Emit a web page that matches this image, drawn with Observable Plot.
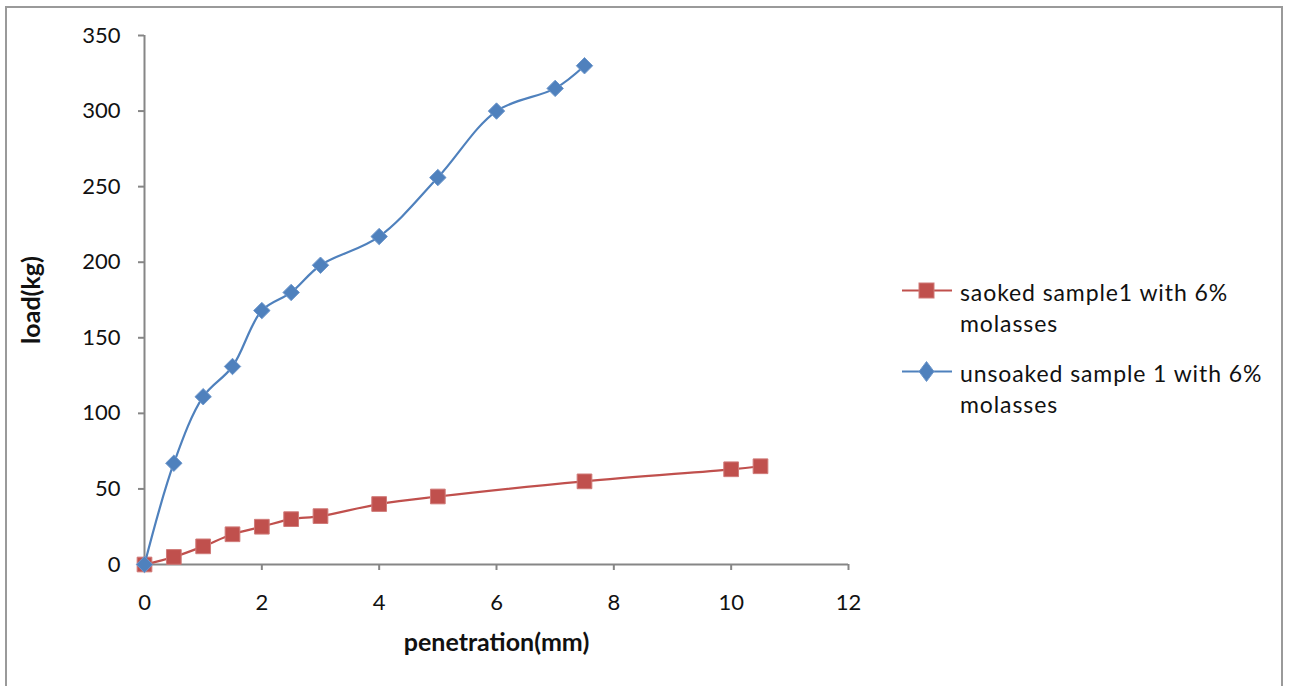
<!DOCTYPE html>
<html>
<head>
<meta charset="utf-8">
<script src="https://cdn.jsdelivr.net/npm/d3@7"></script>
<script src="https://cdn.jsdelivr.net/npm/@observablehq/plot@0.6"></script>
<style>
  html, body { margin: 0; padding: 0; background: #fff; }
  #wrap { position: relative; width: 1294px; height: 686px; overflow: hidden; font-family: Lato, "Open Sans", sans-serif; }
  #border { position: absolute; left: 5px; top: 6px; width: 1278px; height: 700px; border: 2px solid #9a9a9a; box-sizing: border-box; }
  #chart { position: absolute; left: 0; top: 0; }
  #legend { position: absolute; left: 900px; top: 277px; font-size: 23px; line-height: 31px; letter-spacing: 0.9px; color: #111; }
  .entry { display: flex; align-items: flex-start; margin-bottom: 19px; }
  .entry svg { flex: none; margin-top: 1px; margin-right: 7px; }
</style>
</head>
<body>
<div id="wrap">
  <div id="border"></div>
  <div id="chart"></div>
  <div id="legend"></div>
</div>
<script>
// Soaked sample: penetration (mm) and load (kg)
const soakedPenetration = [0, 0.5, 1, 1.5, 2, 2.5, 3, 4, 5, 7.5, 10, 10.5];
const soakedLoad = [0, 5, 12, 20, 25, 30, 32, 40, 45, 55, 63, 65];

// Unsoaked sample: penetration (mm) and load (kg)
const unsoakedPenetration = [0, 0.5, 1, 1.5, 2, 2.5, 3, 4, 5, 6, 7, 7.5];
const unsoakedLoad = [0, 67, 111, 131, 168, 180, 198, 217, 256, 300, 315, 330];

const xTicks = [0, 2, 4, 6, 8, 10, 12];
const yTicks = [0, 50, 100, 150, 200, 250, 300, 350];

const seriesNames = ["saoked sample1 with 6% molasses", "unsoaked sample 1 with 6% molasses"];
const seriesColors = ["#C0504D", "#4F81BD"];

const soaked = soakedPenetration.map((x, i) => ({x, y: soakedLoad[i]}));
const unsoaked = unsoakedPenetration.map((x, i) => ({x, y: unsoakedLoad[i]}));

const axisColor = "#868686";
const font = "Lato, 'Open Sans', sans-serif";

const chart = Plot.plot({
  width: 1294,
  height: 686,
  marginLeft: 144,
  marginRight: 446,
  marginTop: 35,
  marginBottom: 122,
  style: {fontFamily: font, background: "transparent", overflow: "visible"},
  x: {domain: [0, 12]},
  y: {domain: [0, 350]},
  marks: [
    Plot.axisX({ticks: xTicks, tickSize: 6, tickPadding: 24, stroke: axisColor, strokeWidth: 2,
      fill: "#111", fontSize: 22, label: null}),
    Plot.axisY({ticks: yTicks, tickSize: 6, tickPadding: 18, stroke: axisColor, strokeWidth: 2,
      fill: "#111", fontSize: 22, label: null}),
    Plot.ruleX([0], {stroke: axisColor, strokeWidth: 2}),
    Plot.ruleY([0], {stroke: axisColor, strokeWidth: 2}),
    Plot.text(["penetration(mm)"], {frameAnchor: "bottom", lineAnchor: "middle", dy: 78, fontSize: 25, fontWeight: "bold", fill: "#111"}),
    Plot.text(["load(kg)"], {frameAnchor: "left", textAnchor: "middle", lineAnchor: "middle", dx: -113, rotate: -90, fontSize: 25, fontWeight: "bold", fill: "#111"}),
    Plot.line(soaked, {x: "x", y: "y", curve: "catmull-rom", stroke: seriesColors[0], strokeWidth: 2.2}),
    Plot.dot(soaked, {x: "x", y: "y", symbol: "square", r: 8.3, fill: seriesColors[0], stroke: "#d07a78", strokeWidth: 1}),
    Plot.line(unsoaked, {x: "x", y: "y", curve: "catmull-rom", stroke: seriesColors[1], strokeWidth: 2.2}),
    Plot.dot(unsoaked, {x: "x", y: "y", symbol: "diamond2", r: 7.4, fill: seriesColors[1], stroke: "#6f98cc", strokeWidth: 1})
  ]
});
document.getElementById("chart").appendChild(chart);

// Legend with line + marker swatches
const legend = document.getElementById("legend");
const symbols = [
  `<rect x="19" y="5" width="15" height="15" fill="${seriesColors[0]}" stroke="#d07a78" stroke-width="1"/>`,
  `<path d="M26.5,2.5 L34,12.5 L26.5,22.5 L19,12.5 Z" fill="${seriesColors[1]}" stroke="#6f98cc" stroke-width="1"/>`
];
seriesNames.forEach((name, i) => {
  const entry = document.createElement("div");
  entry.className = "entry";
  entry.innerHTML = `<svg width="53" height="25"><line x1="2" x2="52" y1="12.5" y2="12.5" stroke="${seriesColors[i]}" stroke-width="2.2"/>${symbols[i]}</svg>` +
    `<div style="width:330px">${name.replace(" molasses", "<br>molasses")}</div>`;
  legend.appendChild(entry);
});
</script>
</body>
</html>
